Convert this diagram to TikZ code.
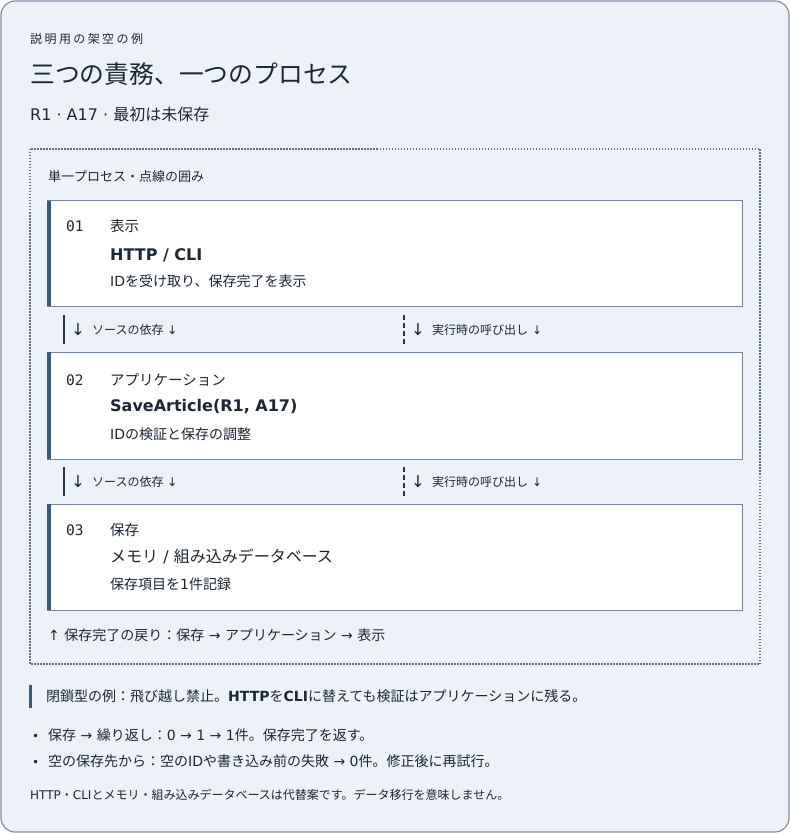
\documentclass[tikz,border=0pt]{standalone}
\usepackage{fontspec}
\setmainfont{DejaVu Sans}
\setmonofont{DejaVu Sans Mono}
\newfontfamily\jpfont{Noto Sans CJK JP}
\newfontfamily\jpwide{Noto Sans CJK JP}[LetterSpace=20]

% Japanese runs switch to the CJK family by themselves
\XeTeXinterchartokenstate=1
\newXeTeXintercharclass\jpclass
\newcount\jpc
\def\jprange#1#2{\jpc=#1 \loop\XeTeXcharclass\jpc=\jpclass \ifnum\jpc<#2 \advance\jpc by 1 \repeat}
\jprange{"3000}{"30FF}
\jprange{"4E00}{"9FFF}
\jprange{"FF00}{"FFEF}
\def\jpsw{\jpfont}
\def\widejp{\def\jpsw{\jpwide}}
\XeTeXinterchartoks 0 \jpclass = {\jpsw}
\XeTeXinterchartoks 4095 \jpclass = {\jpsw}
\XeTeXinterchartoks \jpclass 0 = {\rmfamily}
\XeTeXinterchartoks \jpclass 4095 = {\rmfamily}

\definecolor{pagebg}{HTML}{EDF2F9}
\definecolor{pageline}{HTML}{7C91A8}
\definecolor{ink}{HTML}{1B2734}
\definecolor{barblue}{HTML}{3A5A7A}
\definecolor{sepbar}{HTML}{22384F}
\definecolor{boxline}{HTML}{6F869E}
\definecolor{dotline}{HTML}{5D738C}

\newcommand\fs[1]{\fontsize{#1}{#1}\selectfont}

\tikzset{
  txt/.style={anchor=base west, inner sep=0pt, text=ink},
  layer/.style={draw=boxline, line width=1pt, fill=white},
}

\begin{document}
\begin{tikzpicture}[x=1pt, y=-1pt]
  \useasboundingbox (0,0) rectangle (790,834);
  \draw[fill=pagebg, draw=pageline, line width=1.2pt, rounded corners=14pt] (1,1) rectangle (789,832);

  % heading
  \node[txt, font=\fs{12}\widejp] (eyebrow) at (30,44) {説明用の架空の例};
  \node[txt, font=\fs{24.8}] (title) at (30,84) {三つの責務、一つのプロセス};
  \node[txt, font=\fs{16}] (subtitle) at (30,121) {R1 · A17 · 最初は未保存};

  % process frame
  \draw[dotline, line width=1.5pt, dash pattern=on 1.5pt off 1.5pt] (30,149) rectangle (760,664);
  \node[txt, font=\fs{13}] (frame) at (48,182) {単一プロセス・点線の囲み};

  % layers
  \foreach \yt/\yb in {201/306, 352/459, 504/610} {
    \draw[layer] (47,\yt) rectangle (742,\yb);
    \fill[barblue] (46.5,\yt) rectangle (51,\yb);
  }

  \node[txt, font=\ttfamily\fs{14.5}] (num1) at (66,232) {01};
  \node[txt, font=\fs{14.5}] (role1) at (110,232) {表示};
  \node[txt, font=\bfseries\fs{16}] (name1) at (110,260) {HTTP / CLI};
  \node[txt, font=\fs{14}] (desc1) at (110,286) {IDを受け取り、保存完了を表示};

  \node[txt, font=\ttfamily\fs{14.5}] (num2) at (66,385) {02};
  \node[txt, font=\fs{14.5}] (role2) at (110,385) {アプリケーション};
  \node[txt, font=\bfseries\fs{16}] (name2) at (110,411) {SaveArticle(R1, A17)};
  \node[txt, font=\fs{14}] (desc2) at (110,439) {IDの検証と保存の調整};

  \node[txt, font=\ttfamily\fs{14.5}] (num3) at (66,535) {03};
  \node[txt, font=\fs{14.5}] (role3) at (110,535) {保存};
  \node[txt, font=\fs{16}] (name3) at (110,562) {メモリ / 組み込みデータベース};
  \node[txt, font=\fs{14}] (desc3) at (110,589) {保存項目を1件記録};

  % dependency rows
  \foreach \n/\y in {1/315, 2/467} {
    \draw[sepbar, line width=2pt] (64,\y) -- (64,\y+29);
    \node[txt, font=\fs{16.5}] (srcarrow\n) at (71,\y+20) {↓};
    \node[txt, font=\fs{12}] (src\n) at (92,\y+19) {ソースの依存 ↓};
    \draw[sepbar, line width=2pt, dash pattern=on 5pt off 3pt] (404,\y) -- (404,\y+29);
    \node[txt, font=\fs{16.5}] (runarrow\n) at (411,\y+20) {↓};
    \node[txt, font=\fs{12}] (run\n) at (432,\y+19) {実行時の呼び出し ↓};
  }

  \node[txt, font=\fs{14}] (return) at (48,640) {↑ 保存完了の戻り：保存 → アプリケーション → 表示};

  % note and list
  \fill[barblue] (29,685) rectangle (32,708);
  \node[txt, font=\fs{14}] (note) at (46,701) {閉鎖型の例：飛び越し禁止。\textbf{HTTP}を\textbf{CLI}に替えても検証はアプリケーションに残る。};
  \node[txt, font=\fs{12}] (dot1) at (32,740) {•};
  \node[txt, font=\fs{14}] (item1) at (48,740) {保存 → 繰り返し：0 → 1 → 1件。保存完了を返す。};
  \node[txt, font=\fs{12}] (dot2) at (32,766) {•};
  \node[txt, font=\fs{14}] (item2) at (48,766) {空の保存先から：空のIDや書き込み前の失敗 → 0件。修正後に再試行。};

  \node[txt, font=\fs{12}] (footer) at (30,799) {HTTP・CLIとメモリ・組み込みデータベースは代替案です。データ移行を意味しません。};
\end{tikzpicture}
\end{document}
